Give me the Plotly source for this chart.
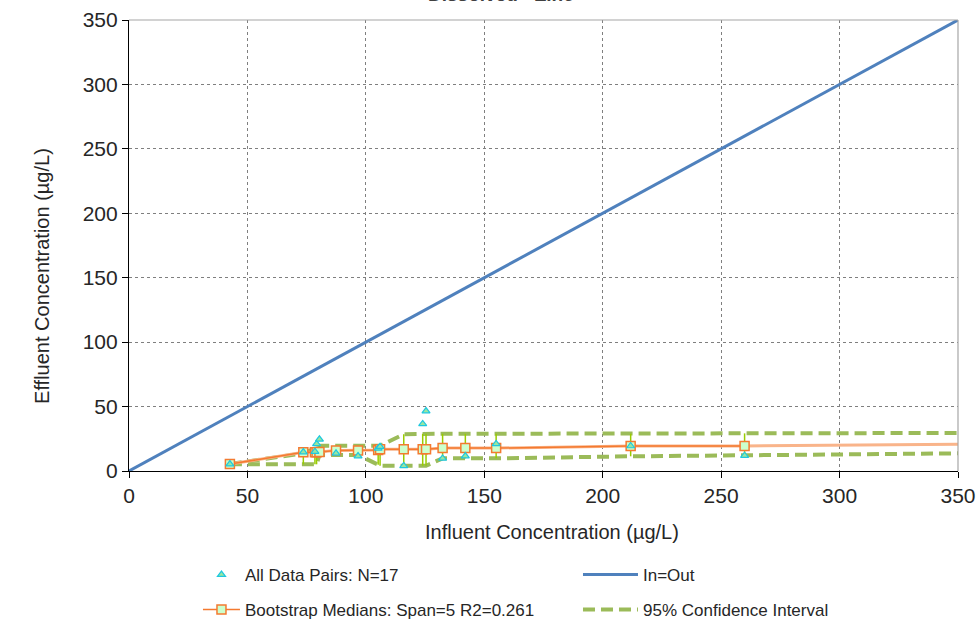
import plotly.graph_objects as go

# ---- data ----
data_x = [42.6, 73.6, 78.5, 79.2, 80.4, 87.4, 96.7, 105.2, 106.0, 116.0, 124.0, 125.4, 132.4, 142.0, 155.0, 211.8, 259.9]
data_y = [5.4, 14.7, 15.0, 21.0, 24.6, 13.7, 11.6, 17.6, 18.9, 3.9, 36.5, 46.5, 9.8, 11.6, 21.0, 19.4, 11.9]

median_y = [5.4, 14.5, 14.5, 14.5, 14.8, 16.0, 16.0, 16.3, 16.8, 16.8, 16.8, 16.8, 17.8, 17.8, 17.8, 19.4, 19.4]
ci_upper = [5.4, 13.7, 17.5, 18.9, 19.6, 19.6, 19.6, 19.6, 19.6, 28.5, 28.9, 28.9, 28.9, 28.9, 28.9, 29.0, 29.2]
ci_lower = [5.2, 5.2, 5.2, 5.2, 12.4, 12.4, 12.4, 4.9, 4.1, 4.1, 4.1, 4.1, 9.8, 9.8, 9.8, 11.4, 12.0]

end_x = 350
end_median = 20.7
end_upper = 29.5
end_lower = 13.7

line_x = [0, 350]
line_y = [0, 350]

title_text = "Dissolved - Zinc"
x_title = "Influent Concentration (µg/L)"
y_title = "Effluent Concentration (µg/L)"

FONT = "Liberation Sans, Arial, sans-serif"
TXT = "#262626"

fig = go.Figure()

fig.add_trace(go.Scatter(
    x=line_x, y=line_y, mode="lines", name="In=Out",
    line=dict(color="#4F81BD", width=3),
    legend="legend2"))

fig.add_trace(go.Scatter(
    x=data_x + [end_x], y=ci_upper + [end_upper], mode="lines",
    name="95% Confidence Interval",
    line=dict(color="#9BBB59", width=4, dash="12px,6px"),
    legend="legend4"))

fig.add_trace(go.Scatter(
    x=data_x + [end_x], y=ci_lower + [end_lower], mode="lines",
    name="95% Confidence Interval", showlegend=False,
    line=dict(color="#9BBB59", width=4, dash="12px,6px")))

fig.add_trace(go.Scatter(
    x=data_x + [end_x], y=median_y + [end_median], mode="lines",
    showlegend=False, line=dict(color="#F9B48A", width=3)))

fig.add_trace(go.Scatter(
    x=data_x, y=median_y, mode="lines+markers",
    name="Bootstrap Medians: Span=5 R2=0.261",
    line=dict(color="#F47A30", width=1.5),
    marker=dict(symbol="square", size=9, color="#CCFFCC",
                line=dict(color="#F47A30", width=1.5)),
    error_y=dict(type="data", symmetric=False,
                 array=[u - m for u, m in zip(ci_upper, median_y)],
                 arrayminus=[m - l for m, l in zip(median_y, ci_lower)],
                 color="#99CC00", thickness=1.5, width=0),
    legend="legend3"))

fig.add_trace(go.Scatter(
    x=data_x, y=data_y, mode="markers", name="All Data Pairs: N=17",
    marker=dict(symbol="triangle-up", size=7, color="#99E6A0",
                line=dict(color="#1EC8E0", width=1.2)),
    legend="legend"))

axis_common = dict(
    range=[0, 350], dtick=50, tick0=0,
    showgrid=True, gridcolor="#7F7F7F", griddash="dot", gridwidth=1,
    zeroline=False, showline=True, linecolor="#000000", linewidth=1.2,
    ticks="outside", ticklen=6, tickcolor="#000000",
    tickfont=dict(family=FONT, size=21, color=TXT),
)

fig.update_xaxes(**axis_common)
fig.update_yaxes(**axis_common)


def leg(x, y, iw):
    return dict(orientation="v", xanchor="left", yanchor="middle", x=x, y=y,
                font=dict(family=FONT, size=17, color=TXT),
                bgcolor="rgba(0,0,0,0)", itemwidth=iw)


title_font = dict(family=FONT, size=20, color=TXT)

fig.update_layout(
    width=978, height=626,
    margin=dict(l=129, r=20, t=20, b=155, autoexpand=False),
    paper_bgcolor="white", plot_bgcolor="white",
    font=dict(family=FONT, color=TXT),
    showlegend=True,
    legend=leg(0.0832, -0.2306, 37),
    legend2=leg(0.5416, -0.2306, 55),
    legend3=leg(0.0832, -0.3082, 37),
    legend4=leg(0.5416, -0.3082, 55),
    shapes=[
        dict(type="line", xref="paper", yref="paper", x0=0, x1=1, y0=1, y1=1,
             line=dict(color="#A6A6A6", width=1.2)),
        dict(type="line", xref="paper", yref="paper", x0=1, x1=1, y0=0, y1=1,
             line=dict(color="#A6A6A6", width=1.2)),
    ],
    annotations=[
        dict(text="<b>" + title_text + "</b>", xref="paper", yref="paper", x=0.449, y=1,
             xanchor="center", yanchor="bottom", yshift=13, showarrow=False,
             font=dict(family=FONT, size=19, color="#404040")),
        dict(text=x_title, xref="paper", yref="paper", x=0.5103, y=-0.1353,
             xanchor="center", yanchor="middle", showarrow=False, font=title_font),
        dict(text=y_title, xref="paper", yref="paper", x=-0.105, y=0.4324,
             xanchor="center", yanchor="middle", textangle=-90, showarrow=False,
             font=title_font),
    ],
)

fig.write_html("out.html")
